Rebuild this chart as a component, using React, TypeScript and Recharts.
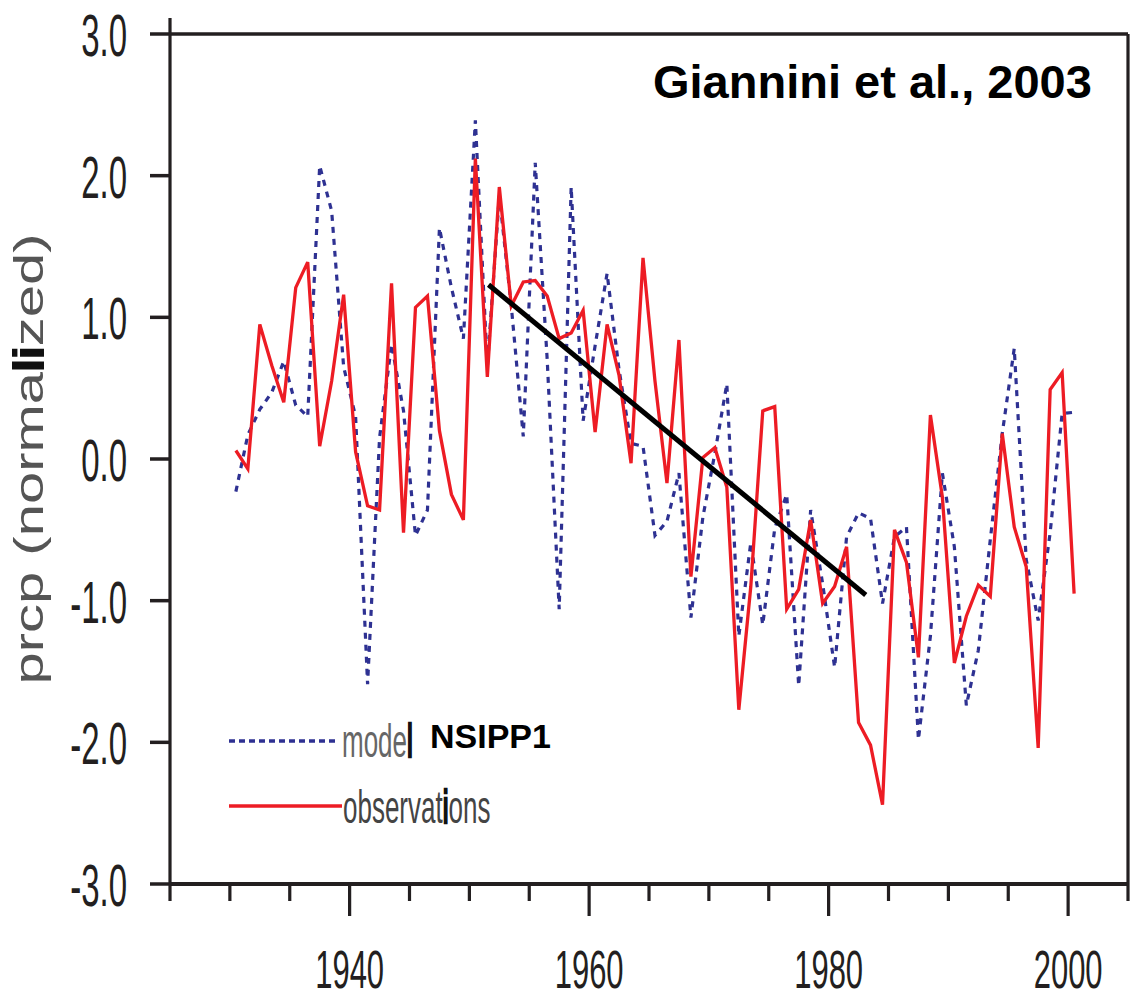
import React from "react";
import { LineChart, Line, XAxis, YAxis, ReferenceLine } from "recharts";

// annual Sahel rainfall index, 1930-2000 (plotted at mid-year)
const firstYear = 1930;
const observations = [
  0.06, -0.07, 0.95, 0.66, 0.4, 1.21, 1.39, 0.09, 0.55, 1.16,
  0.05, -0.33, -0.36, 1.24, -0.52, 1.07, 1.15, 0.2, -0.25, -0.43,
  2.12, 0.58, 1.92, 1.08, 1.25, 1.26, 1.15, 0.85, 0.89, 1.05,
  0.19, 0.95, 0.59, -0.03, 1.42, 0.55, -0.17, 0.84, -0.83, 0.01,
  0.08, -0.2, -1.77, -0.9, 0.34, 0.37, -1.06, -0.92, -0.43, -1.02,
  -0.9, -0.62, -1.86, -2.02, -2.44, -0.5, -0.73, -1.4, 0.31, -0.27,
  -1.44, -1.11, -0.89, -0.97, 0.18, -0.48, -0.76, -2.04, 0.49, 0.61,
  -0.95,
];
const model = [
  -0.23, 0.17, 0.35, 0.47, 0.69, 0.38, 0.3, 2.07, 1.75, 0.65,
  0.3, -1.59, 0.15, 0.81, 0.34, -0.54, -0.36, 1.63, 1.21, 0.85,
  2.39, 0.65, 1.86, 1.08, 0.16, 2.09, 0.7, -1.06, 1.92, 0.27,
  0.8, 1.31, 0.63, 0.11, 0.09, -0.54, -0.44, -0.1, -1.12, -0.41,
  0.04, 0.53, -1.25, -0.59, -1.17, -0.49, -0.25, -1.6, -0.36, -0.88,
  -1.47, -0.55, -0.38, -0.42, -1.02, -0.55, -0.48, -1.98, -1.25, -0.1,
  -0.62, -1.74, -1.35, -0.57, 0.18, 0.78, -0.71, -1.14, -0.52, 0.32,
  0.33,
];
const xTicks = [1925, 1930, 1935, 1940, 1945, 1950, 1955, 1960, 1965, 1970, 1975, 1980, 1985, 1990, 1995, 2000, 2005];
const xLabelYears = [1940, 1960, 1980, 2000];
const yTicks = [-3, -2, -1, 0, 1, 2, 3];
const trendStart = { t: 1951.6, v: 1.23 };
const trendEnd = { t: 1983.1, v: -0.96 };

const table = observations.map((obs, i) => ({ t: firstYear + i + 0.5, obs, model: model[i] }));

const ink = "#231f20";
const font = "'Liberation Sans', Arial, sans-serif";

const Empty = () => <g />;

function YTick({ x, y, payload }: any) {
  return (
    <text transform={`translate(${x},${y + 22}) scale(1,1.8)`} textAnchor="end" fontSize={33} fontFamily={font} fill={ink}>
      {Number(payload.value).toFixed(1)}
    </text>
  );
}

function XTick({ x, y, payload }: any) {
  const major = xLabelYears.includes(payload.value);
  return (
    <g>
      <line x1={x} x2={x} y1={y} y2={y + (major ? 32 : 17)} stroke={ink} strokeWidth={3.2} />
      {major && (
        <text transform={`translate(${x},${y + 104}) scale(1,1.75)`} textAnchor="middle" fontSize={31} fontFamily={font} fill={ink}>
          {payload.value}
        </text>
      )}
    </g>
  );
}

export default function App() {
  return (
    <div style={{ position: "relative", width: 1134, height: 998, background: "#fff" }}>
      <style>{"body{margin:0}"}</style>
      <LineChart width={1134} height={998} data={table} margin={{ top: 18, right: 0, bottom: 4, left: 20 }}>
        <XAxis xAxisId="top" orientation="top" type="number" dataKey="t" domain={[1925, 2005]} ticks={[1925]} interval={0}
          height={16} tickSize={16} tick={Empty} axisLine={{ stroke: ink, strokeWidth: 3.5 }} tickLine={{ stroke: ink, strokeWidth: 3.2 }} />
        <XAxis type="number" dataKey="t" domain={[1925, 2005]} ticks={xTicks} interval={0} height={110}
          tickSize={0} tickMargin={0} tick={XTick} tickLine={false} axisLine={{ stroke: ink, strokeWidth: 4 }} />
        <YAxis yAxisId="left" domain={[-3, 3]} ticks={yTicks} interval={0} width={150} tickSize={20} tickMargin={23}
          tick={YTick} axisLine={{ stroke: ink, strokeWidth: 3.2 }} tickLine={{ stroke: ink, strokeWidth: 3.5 }} />
        <YAxis yAxisId="right" orientation="right" domain={[-3, 3]} ticks={yTicks} interval={0} width={6} tickSize={10}
          tick={Empty} axisLine={{ stroke: ink, strokeWidth: 3.2 }} tickLine={{ stroke: ink, strokeWidth: 3.5 }} />
        <Line yAxisId="left" type="linear" dataKey="model" stroke="#2e3192" strokeWidth={3.2} strokeDasharray="6 6"
          dot={false} isAnimationActive={false} />
        <Line yAxisId="left" type="linear" dataKey="obs" stroke="#ed1c24" strokeWidth={3.3}
          dot={false} isAnimationActive={false} />
        <ReferenceLine yAxisId="left" segment={[{ x: trendStart.t, y: trendStart.v }, { x: trendEnd.t, y: trendEnd.v }]}
          stroke="#000" strokeWidth={5} ifOverflow="visible" />
      </LineChart>
      <svg width={1134} height={998} style={{ position: "absolute", left: 0, top: 0, pointerEvents: "none" }}>
        <text transform="translate(43,459) rotate(-90) scale(1.45,1)" textAnchor="middle" fontSize={40} fontFamily={font} fill="#555">
          prcp (norma<tspan fill="#111" stroke="#111" strokeWidth={2}>li</tspan>zed)
        </text>
        <text x={653} y={98} fontSize={47} fontWeight="bold" fontFamily={font} fill="#000">Giannini et al., 2003</text>
        <line x1={229} x2={337} y1={741} y2={741} stroke="#2e3192" strokeWidth={3.5} strokeDasharray="6 4" />
        <text transform="translate(342,757) scale(1,1.75)" fontSize={26} fontFamily={font} fill="#666">
          mode<tspan fill="#111" stroke="#111" strokeWidth={1.5}>l</tspan>
        </text>
        <text x={430} y={748} fontSize={34} fontWeight="bold" fontFamily={font} fill="#000">NSIPP1</text>
        <line x1={229} x2={342} y1={806} y2={806} stroke="#ed1c24" strokeWidth={3.5} />
        <text transform="translate(343,823) scale(1,1.75)" fontSize={26} fontFamily={font} fill="#444">
          observat<tspan fill="#111" stroke="#111" strokeWidth={1.5}>i</tspan>ons
        </text>
      </svg>
    </div>
  );
}
